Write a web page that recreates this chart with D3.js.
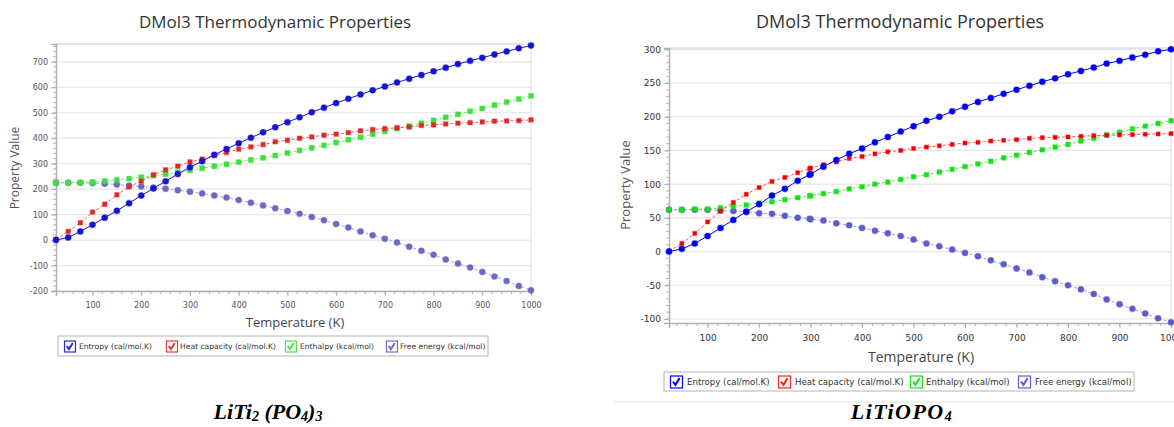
<!DOCTYPE html>
<html><head><meta charset="utf-8">
<script src="https://cdn.jsdelivr.net/npm/d3@7"></script>
<style>body{margin:0;background:#fff;overflow:hidden}svg{display:block}</style>
</head><body>
<svg id="c" width="1174" height="427"></svg>
<script>
// ---------- Data: LiTi2(PO4)3 (left chart) ----------
const tempsA = [25,50,75,100,125,150,175,200,225,250,275,300,325,350,375,400,425,450,475,500,525,550,575,600,625,650,675,700,725,750,775,800,825,850,875,900,925,950,975,1000];
const entropyA = [0,10,34,60,88,115,145,175,203,231,259,286,310,335,358,380,402,423,443,463,482,502,520,538,555,572,588,603,619,634,648,663,677,691,704,716,729,741,753,764];
const heatCapA = [3,34,68,110,141,178,209,231,256,276,290,307,318,333,344,357,366,375,386,392,400,405,412,416,422,429,434,438,441,444,450,452,456,459,461,464,467,468,469,472];
const enthalpyA = [225,225,226,228,232,236,241,247,253,259,266,274,282,290,298,306,315,323,332,342,352,362,372,383,394,404,416,427,438,448,459,470,482,494,506,517,530,542,554,566];
const freeEnergyA = [225,225,225,224,221,218,214,210,206,202,196,190,183,175,167,157,147,136,125,114,103,91,78,63,49,34,19,5,-10,-26,-42,-58,-76,-92,-108,-125,-143,-161,-180,-197];

// ---------- Data: LiTiOPO4 (right chart) ----------
const tempsB = [25,50,75,100,125,150,175,200,225,250,275,298.15,300,325,350,375,400,425,450,475,500,525,550,575,600,625,650,675,700,725,750,775,800,825,850,875,900,925,950,975,1000];
const entropyB = [0,4,12,23,35,47,59,70,83,93,105,114,115,126,136,145,153,162,170,178,186,194,200,208,215,222,228,234,240,246,252,257,263,268,273,279,283,288,292,297,300];
const heatCapB = [1,12,27,44,60,73,85,95,104,110,117,123,124,129,133,138,141,145,148,150,153,155,157,159,161,162,164,165,166,168,169,169.5,170,171,172,172.5,173,173.5,174,174.5,175];
const enthalpyB = [62,62,63,63,65,67,69,72,74,77,80,82.5,83,86,89,93,96,100,103,107,111,114,118,122,126,130,134,139,143,147,151,155,159,164,168,173,177,182,186,190,194];
const freeEnergyB = [62,62,62,62,61,60,59,57,56,53,50,48.5,48,46,42,39,35,31,27,23,18,12,8,3,-2,-7,-13,-19,-25,-31,-38,-44,-50,-56,-63,-71,-78,-85,-92,-99,-105];

// ---------- Labels ----------
const xTicks = [100,200,300,400,500,600,700,800,900,1000];
const yTicksA = [-200,-100,0,100,200,300,400,500,600,700];
const yTicksB = [-100,-50,0,50,100,150,200,250,300];
const seriesNames = ["Entropy (cal/mol.K)","Heat capacity (cal/mol.K)","Enthalpy (kcal/mol)","Free energy (kcal/mol)"];
const chartTitle = "DMol3 Thermodynamic Properties";
const xLabel = "Temperature (K)";
const yLabel = "Property Value";

const svg = d3.select("#c");
const plainFmt = d => String(d);

function drawChart(o) {
  const g = svg.append("g");
  const x = d3.scaleLinear().domain([25,1000]).range([o.left,o.right]);
  const y = d3.scaleLinear().domain(o.yDomain).range([o.bottom,o.top]);

  // gridlines
  g.append("g").selectAll("line").data(o.yTicks).join("line")
    .attr("x1",o.left).attr("x2",o.right)
    .attr("y1",d=>y(d)).attr("y2",d=>y(d))
    .attr("stroke","#e6e6e6").attr("stroke-width",1.2);
  // frame top/right
  g.append("line").attr("x1",o.left).attr("x2",o.right).attr("y1",o.top).attr("y2",o.top).attr("stroke","#dcdcdc").attr("stroke-width",1.5);
  g.append("line").attr("x1",o.right).attr("x2",o.right).attr("y1",o.top).attr("y2",o.bottom).attr("stroke","#e4e4e4").attr("stroke-width",1.2);

  // minor ticks
  const yMinor = d3.range(Math.ceil(o.yDomain[0]/o.yMinorStep)*o.yMinorStep, o.yDomain[1]+0.001, o.yMinorStep);
  g.append("g").selectAll("line").data(yMinor).join("line")
    .attr("x1",o.left-3).attr("x2",o.left).attr("y1",d=>y(d)).attr("y2",d=>y(d))
    .attr("stroke","#b8b8b8");
  const xMinor = d3.range(40,1001,20);
  g.append("g").selectAll("line").data(xMinor).join("line")
    .attr("x1",d=>x(d)).attr("x2",d=>x(d)).attr("y1",o.bottom).attr("y2",o.bottom+3)
    .attr("stroke","#b8b8b8");

  // axes
  const ya = g.append("g").attr("transform",`translate(${o.left},0)`)
    .call(d3.axisLeft(y).tickValues(o.yTicks).tickFormat(plainFmt).tickSize(5).tickPadding(3));
  const xa = g.append("g").attr("transform",`translate(0,${o.bottom})`)
    .call(d3.axisBottom(x).tickValues(xTicks).tickFormat(plainFmt).tickSize(5).tickPadding(o.xPad));
  [ya,xa].forEach(a=>{
    a.select(".domain").attr("stroke","#b0b0b0").attr("stroke-width",1.5);
    a.selectAll(".tick line").attr("stroke","#b0b0b0");
    a.selectAll("text").attr("fill",o.tickColor).style("font-family",o.tickFont).style("font-size",o.tickSize+"px");
  });

  // lines + markers
  const sets = [
    {vals:o.entropy, color:o.colors[0], line:o.colors[0], dash:null, shape:"circle"},
    {vals:o.heat, color:o.colors[1], line:o.lineColors[1], dash:"3,2", shape:"square"},
    {vals:o.enthalpy, color:o.colors[2], line:o.lineColors[2], dash:"3,2", shape:"square"},
    {vals:o.free, color:o.colors[3], line:o.lineColors[3], dash:"3,2", shape:"circle"}
  ];
  const plot = g.append("g");
  const order = [3,2,1,0];
  order.forEach(i=>{
    const s = sets[i];
    const pts = o.temps.map((t,k)=>[t,s.vals[k]]);
    plot.append("path").datum(pts)
      .attr("fill","none").attr("stroke",s.line).attr("stroke-width",o.lineW)
      .attr("stroke-dasharray",s.dash)
      .attr("d",d3.line().x(d=>x(d[0])).y(d=>y(d[1])));
  });
  order.forEach(i=>{
    const s = sets[i];
    const pts = o.temps.map((t,k)=>[t,s.vals[k]]);
    if (s.shape==="circle") {
      plot.append("g").selectAll("circle").data(pts).join("circle")
        .attr("cx",d=>x(d[0])).attr("cy",d=>y(d[1])).attr("r",o.circleR)
        .attr("fill",s.color).attr("stroke",s.color).attr("stroke-opacity",0.35).attr("stroke-width",1.2);
    } else {
      const a = i===2 ? o.sqG : o.sqR;
      plot.append("g").selectAll("rect").data(pts).join("rect")
        .attr("x",d=>x(d[0])-a/2).attr("y",d=>y(d[1])-a/2).attr("width",a).attr("height",a)
        .attr("fill",s.color).attr("stroke",s.color).attr("stroke-opacity",0.35).attr("stroke-width",1.2);
    }
  });

  // title & axis labels
  g.append("text").attr("x",o.titleX).attr("y",o.titleY).attr("text-anchor","middle")
    .style("font-family","'Open Sans','Noto Sans',sans-serif").style("font-size",o.titleSize+"px")
    .attr("fill","#333").text(chartTitle);
  g.append("text").attr("x",o.xLabX).attr("y",o.xLabY).attr("text-anchor","middle")
    .style("font-family","'Open Sans','Noto Sans',sans-serif").style("font-size",o.labSize+"px")
    .attr("fill","#444").text(xLabel);
  g.append("text").attr("transform",`translate(${o.yLabX},${o.yLabY}) rotate(-90)`).attr("text-anchor","middle")
    .style("font-family","'Open Sans','Noto Sans',sans-serif").style("font-size",o.yLabSize+"px")
    .attr("fill","#555").text(yLabel);

  // legend
  const L = o.legend;
  g.append("rect").attr("x",L.x0).attr("y",L.y0).attr("width",L.x1-L.x0).attr("height",L.h)
    .attr("fill","#fff").attr("stroke","#b4b4b4").attr("stroke-width",1);
  seriesNames.forEach((name,i)=>{
    const bx = L.cb[i], by = L.y0 + (L.h-L.cbs)/2;
    const col = o.legendColors[i];
    g.append("rect").attr("x",bx+0.5).attr("y",by+0.5).attr("width",L.cbs).attr("height",L.cbs)
      .attr("fill","#fff").attr("stroke",col).attr("stroke-width",1.2);
    const c = L.cbs;
    g.append("path").attr("d",`M${bx+c*0.25},${by+c*0.5} L${bx+c*0.45},${by+c*0.78} L${bx+c*0.8},${by+c*0.22}`)
      .attr("fill","none").attr("stroke",col).attr("stroke-width",2);
    g.append("text").attr("x",L.tx[i]).attr("y",L.y0+L.h/2).attr("dy","0.35em")
      .style("font-family","'DejaVu Sans',sans-serif").style("font-size",L.fs+"px")
      .attr("fill","#333").text(name);
  });
}

// Left chart
drawChart({
  left:56, right:531, top:44, bottom:291, yDomain:[-200,770], yTicks:yTicksA, yMinorStep:20,
  temps:tempsA, entropy:entropyA, heat:heatCapA, enthalpy:enthalpyA, free:freeEnergyA,
  colors:["#1414d2","#e02828","#3ee03e","#6a6ac4"], lineColors:["#1414d2","#ee6060","#70ee70","#a8a8e0"],
  legendColors:["#2a2ad0","#e04040","#50e050","#7070c8"],
  circleR:3, sqR:4.5, sqG:5, lineW:1,
  tickFont:"'DejaVu Sans',sans-serif", tickSize:8, tickColor:"#555", xPad:6,
  titleX:275, titleY:28, titleSize:17,
  xLabX:295, xLabY:327, labSize:13,
  yLabX:19, yLabY:168, yLabSize:12,
  legend:{x0:58, x1:488, y0:336, h:20, cbs:11, cb:[64,166,285,386], tx:[79,180,300,400], fs:7.6}
});

// Right chart
drawChart({
  left:669, right:1171, top:48, bottom:323, yDomain:[-106,302], yTicks:yTicksB, yMinorStep:10,
  temps:tempsB, entropy:entropyB, heat:heatCapB, enthalpy:enthalpyB, free:freeEnergyB,
  colors:["#0000f0","#f00000","#16e016","#5c5cc8"], lineColors:["#2020ff","#ff5050","#50e850","#9c9ce0"],
  legendColors:["#0000ff","#ff2020","#20e020","#6060d0"],
  circleR:3, sqR:4, sqG:4.6, lineW:1,
  tickFont:"'DejaVu Sans',sans-serif", tickSize:9, tickColor:"#333", xPad:7,
  titleX:900, titleY:28, titleSize:18,
  xLabX:921, xLabY:362, labSize:14,
  yLabX:630, yLabY:185, yLabSize:13,
  legend:{x0:664, x1:1134, y0:372, h:19, cbs:12, cb:[670,778,910,1018], tx:[687,795,926,1035], fs:8.6}
});

// separator line under right chart
svg.append("line").attr("x1",614).attr("x2",1174).attr("y1",402).attr("y2",402).attr("stroke","#e4e4e4").attr("stroke-width",1);

// captions
const capFont = "'Liberation Serif','Times New Roman',serif";
const captionA = svg.append("text").attr("x",268).attr("y",419).attr("text-anchor","middle")
  .style("font-family",capFont).style("font-size","22px")
  .style("font-weight","bold").style("font-style","italic").attr("fill","#000");
captionA.append("tspan").text("LiTi");
captionA.append("tspan").style("font-size","14px").attr("dy","2").text("2");
captionA.append("tspan").attr("dy","-2").text(" (PO");
captionA.append("tspan").style("font-size","14px").attr("dy","2").text("4");
captionA.append("tspan").attr("dy","-2").text(")");
captionA.append("tspan").style("font-size","14px").attr("dy","2").text("3");

const captionB = svg.append("text").attr("x",902).attr("y",419).attr("text-anchor","middle")
  .style("font-family",capFont).style("font-size","22px").style("letter-spacing","1.5px")
  .style("font-weight","bold").style("font-style","italic").attr("fill","#000");
captionB.append("tspan").text("LiTiOPO");
captionB.append("tspan").style("font-size","14px").attr("dy","2").text("4");
</script>
</body></html>
